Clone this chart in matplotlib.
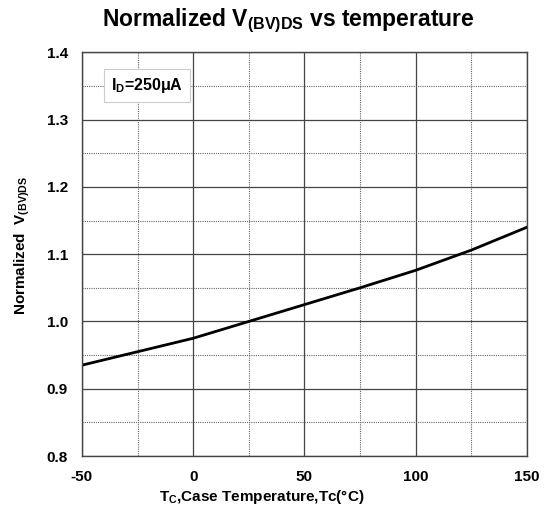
import numpy as np
from matplotlib import pyplot as plt
from matplotlib.ticker import MultipleLocator

# data
temps = [-50, -25, 0, 25, 50, 75, 100, 125, 150]
bv_norm = [0.935, 0.955, 0.975, 1.0, 1.025, 1.05, 1.076, 1.106, 1.14]

x_ticks = [-50, 0, 50, 100, 150]
y_ticks = [0.8, 0.9, 1.0, 1.1, 1.2, 1.3, 1.4]

plt.rcParams['font.family'] = ['Liberation Sans', 'DejaVu Sans']
plt.rcParams['font.weight'] = 'bold'
plt.rcParams['axes.unicode_minus'] = False
plt.rcParams['mathtext.fontset'] = 'custom'
plt.rcParams['mathtext.rm'] = 'Liberation Sans:bold'
plt.rcParams['mathtext.bf'] = 'Liberation Sans:bold'
plt.rcParams['mathtext.it'] = 'Liberation Sans:bold'

fig = plt.figure(figsize=(5.46, 5.11), dpi=100)
ax = fig.add_axes([0.150, 0.1076, 0.815, 0.790])

ax.plot(temps, bv_norm, color='black', lw=2)

ax.set_xlim(-50, 150)
ax.set_ylim(0.8, 1.4)
ax.set_xticks(x_ticks)
ax.set_yticks(y_ticks)
ax.set_xticklabels([str(v) for v in x_ticks])
ax.set_yticklabels([f"{v:.1f}" for v in y_ticks])
ax.xaxis.set_minor_locator(MultipleLocator(25))
ax.yaxis.set_minor_locator(MultipleLocator(0.05))
ax.grid(which='major', color='#444444', lw=0.9)
ax.grid(which='minor', color='#666666', lw=0.8, ls=(0, (1, 1)))
ax.tick_params(which='both', length=0, labelsize=11, pad=10)
for lab in ax.get_xticklabels() + ax.get_yticklabels():
    lab.set_fontweight('bold')
for s in ax.spines.values():
    s.set_color('#444444')
    s.set_linewidth(1)

fig.text(262 / 546, 1 - 497 / 511, r'T$_\mathbf{C}$,Case Temperature,Tc(°C)',
         fontsize=11, fontweight='bold', ha='center', va='center')
fig.text(22 / 546, 1 - 245 / 511, r'Normalized  V$_\mathbf{(BV)DS}$',
         fontsize=11, fontweight='bold', ha='center', va='center', rotation=90)
fig.text(288 / 546, 1 - 21 / 511, r'Normalized V$_\mathbf{(BV)DS}$ vs temperature',
         fontsize=16.5, fontweight='bold', ha='center', va='center')

ax.text(-37, 1.351, r'I$_\mathbf{D}$=250μA', fontsize=11.5, fontweight='bold', va='center', ha='left',
        bbox=dict(boxstyle='square,pad=0.45', facecolor='white', edgecolor='#cccccc', lw=0.8), zorder=5)

fig.savefig('out.png', dpi=100)
